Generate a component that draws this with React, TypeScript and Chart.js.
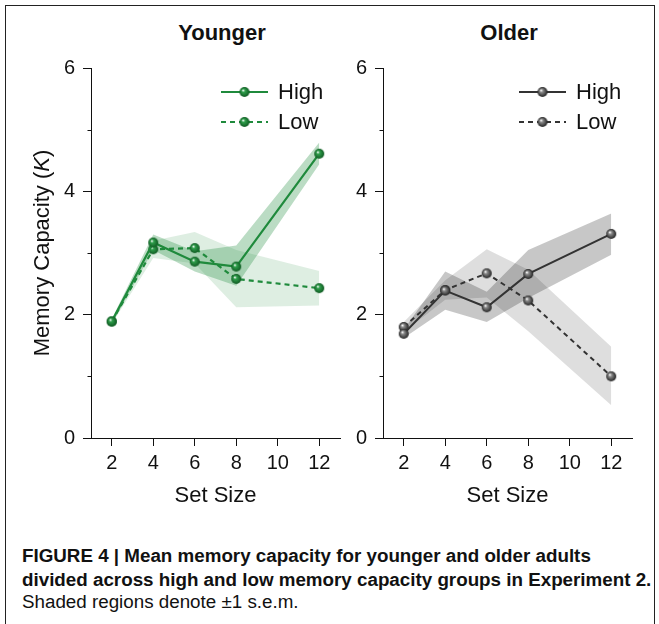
import React, { useEffect, useRef } from 'react';
import { Chart, registerables } from 'chart.js';

Chart.register(...registerables);

// ---------- data ----------
const setSizes = [2, 4, 6, 8, 12];

const youngHigh = [1.89, 3.17, 2.86, 2.78, 4.61];
const youngHighUpper = [1.93, 3.30, 3.03, 3.12, 4.79];
const youngHighLower = [1.85, 3.05, 2.70, 2.47, 4.44];
const youngLow = [1.89, 3.06, 3.08, 2.58, 2.43];
const youngLowUpper = [1.93, 3.20, 3.34, 3.05, 2.71];
const youngLowLower = [1.85, 2.92, 2.83, 2.12, 2.15];

const oldHigh = [1.69, 2.39, 2.12, 2.66, 3.31];
const oldHighUpper = [1.76, 2.70, 2.37, 3.05, 3.64];
const oldHighLower = [1.62, 2.08, 1.88, 2.27, 2.97];
const oldLow = [1.80, 2.40, 2.67, 2.23, 1.00];
const oldLowUpper = [1.88, 2.56, 3.06, 2.73, 1.48];
const oldLowLower = [1.72, 2.24, 2.28, 1.73, 0.53];

const xTickValues = [2, 4, 6, 8, 10, 12];
const yTickValues = [0, 2, 4, 6];
const yMinorTickValues = [1, 3, 5];
const legendLabels = ['High', 'Low'];

const FONT = '"Liberation Sans", Arial, Helvetica, sans-serif';
const INK = '#111111';

function pts(values: number[]) {
  return values.map((v, i) => ({ x: setSizes[i], y: v }));
}

function makeSphere(mid: string, dark: string, r: number) {
  const size = Math.ceil(r * 2 + 2);
  const c = document.createElement('canvas');
  c.width = size;
  c.height = size;
  const ctx = c.getContext('2d')!;
  const cx = size / 2;
  const cy = size / 2;
  const g = ctx.createRadialGradient(cx - r * 0.3, cy - r * 0.35, r * 0.05, cx, cy, r);
  g.addColorStop(0, '#ffffff');
  g.addColorStop(0.3, mid);
  g.addColorStop(1, dark);
  ctx.fillStyle = g;
  ctx.beginPath();
  ctx.arc(cx, cy, r, 0, Math.PI * 2);
  ctx.fill();
  return c;
}

type Panel = {
  high: number[];
  highUpper: number[];
  highLower: number[];
  low: number[];
  lowUpper: number[];
  lowLower: number[];
  line: string;
  sphereMid: string;
  sphereDark: string;
  bandHigh: string;
  bandLow: string;
  lineWidth: number;
  yWidth: number;
  padRight: number;
  legendLeft: number;
  yTitle: boolean;
};

const younger: Panel = {
  high: youngHigh,
  highUpper: youngHighUpper,
  highLower: youngHighLower,
  low: youngLow,
  lowUpper: youngLowUpper,
  lowLower: youngLowLower,
  line: '#1f8a3c',
  sphereMid: '#2f9e4b',
  sphereDark: '#0f5a22',
  bandHigh: 'rgba(31,138,60,0.30)',
  bandLow: 'rgba(31,138,60,0.15)',
  lineWidth: 2.2,
  yWidth: 91,
  padRight: 20,
  legendLeft: 130,
  yTitle: true,
};

const older: Panel = {
  high: oldHigh,
  highUpper: oldHighUpper,
  highLower: oldHighLower,
  low: oldLow,
  lowUpper: oldLowUpper,
  lowLower: oldLowLower,
  line: '#333333',
  sphereMid: '#8a8a8a',
  sphereDark: '#222222',
  bandHigh: 'rgba(0,0,0,0.22)',
  bandLow: 'rgba(0,0,0,0.13)',
  lineWidth: 2,
  yWidth: 38,
  padRight: 23,
  legendLeft: 136,
  yTitle: false,
};

function buildChart(canvas: HTMLCanvasElement, p: Panel) {
  const sphere = makeSphere(p.sphereMid, p.sphereDark, 5);

  const minorTicks = {
    id: 'minorTicks',
    afterDraw(chart: any) {
      const ctx = chart.ctx;
      const ys = chart.scales.y;
      const left = chart.chartArea.left;
      ctx.save();
      ctx.strokeStyle = INK;
      ctx.lineWidth = 1;
      ctx.beginPath();
      yMinorTickValues.forEach((v) => {
        const py = Math.round(ys.getPixelForValue(v)) + 0.5;
        ctx.moveTo(left - 3.5, py);
        ctx.lineTo(left, py);
      });
      ctx.stroke();
      ctx.restore();
    },
  };

  const lineLegend = {
    id: 'lineLegend',
    afterDraw(chart: any) {
      const ctx = chart.ctx;
      const a = chart.chartArea;
      const x0 = a.left + p.legendLeft;
      const rows = [92, 122];
      legendLabels.forEach((label, i) => {
        const y = rows[i];
        ctx.save();
        ctx.strokeStyle = p.line;
        ctx.lineWidth = p.lineWidth;
        ctx.setLineDash(i === 0 ? [] : [5, 4]);
        ctx.beginPath();
        ctx.moveTo(x0, y);
        ctx.lineTo(x0 + 47, y);
        ctx.stroke();
        ctx.setLineDash([]);
        ctx.drawImage(sphere, x0 + 23.5 - sphere.width / 2, y - sphere.height / 2);
        ctx.fillStyle = INK;
        ctx.font = '22px ' + FONT;
        ctx.textBaseline = 'middle';
        ctx.textAlign = 'left';
        ctx.fillText(label, x0 + 57, y + 1);
        ctx.restore();
      });
    },
  };

  const yTitle = {
    id: 'yTitleMixed',
    afterDraw(chart: any) {
      if (!p.yTitle) return;
      const ctx = chart.ctx;
      const a = chart.chartArea;
      const parts = [
        { t: 'Memory Capacity (', f: '22px ' + FONT },
        { t: 'K', f: 'italic 22px ' + FONT },
        { t: ')', f: '22px ' + FONT },
      ];
      ctx.save();
      let total = 0;
      const widths = parts.map((pt) => {
        ctx.font = pt.f;
        const w = ctx.measureText(pt.t).width;
        total += w;
        return w;
      });
      ctx.translate(43, (a.top + a.bottom) / 2);
      ctx.rotate(-Math.PI / 2);
      ctx.fillStyle = INK;
      ctx.textBaseline = 'middle';
      ctx.textAlign = 'left';
      let x = -total / 2;
      parts.forEach((pt, i) => {
        ctx.font = pt.f;
        ctx.fillText(pt.t, x, 0);
        x += widths[i];
      });
      ctx.restore();
    },
  };

  const lineDs = (label: string, data: number[], dash: number[]) => ({
    label,
    data: pts(data),
    borderColor: p.line,
    borderWidth: p.lineWidth,
    borderDash: dash,
    pointStyle: sphere,
    pointRadius: 5,
    fill: false,
    tension: 0,
  });
  const bandDs = (label: string, data: number[], fill: any, color: string) => ({
    label,
    data: pts(data),
    borderWidth: 0,
    borderColor: 'rgba(0,0,0,0)',
    backgroundColor: color,
    pointRadius: 0,
    fill,
    tension: 0,
  });

  return new Chart(canvas, {
    type: 'line',
    data: {
      datasets: [
        lineDs('High', p.high, []),
        lineDs('Low', p.low, [5, 4]),
        bandDs('High upper', p.highUpper, '+1', p.bandHigh),
        bandDs('High lower', p.highLower, false, p.bandHigh),
        bandDs('Low upper', p.lowUpper, '+1', p.bandLow),
        bandDs('Low lower', p.lowLower, false, p.bandLow),
      ],
    } as any,
    options: {
      animation: false,
      responsive: false,
      devicePixelRatio: 1,
      events: [],
      layout: { padding: { left: 0, top: 68, right: p.padRight, bottom: 0 } },
      plugins: {
        legend: { display: false },
        tooltip: { enabled: false },
        title: { display: false },
        filler: { drawTime: 'beforeDatasetsDraw' },
      } as any,
      scales: {
        x: {
          type: 'linear',
          min: 1,
          max: 13,
          afterBuildTicks: (s: any) => {
            s.ticks = xTickValues.map((v) => ({ value: v }));
          },
          afterFit: (s: any) => {
            s.height = 82;
          },
          ticks: { font: { size: 20, family: FONT }, color: INK, padding: 5, maxRotation: 0 },
          grid: { drawOnChartArea: false, drawTicks: true, tickLength: 8, tickColor: INK, tickWidth: 1 },
          border: { display: true, color: INK, width: 1 },
          title: {
            display: true,
            text: 'Set Size',
            color: INK,
            font: { size: 22, family: FONT },
            padding: { top: 0, bottom: 11 },
          },
        },
        y: {
          type: 'linear',
          min: 0,
          max: 6,
          afterBuildTicks: (s: any) => {
            s.ticks = yTickValues.map((v) => ({ value: v }));
          },
          afterFit: (s: any) => {
            s.width = p.yWidth;
          },
          ticks: { font: { size: 20, family: FONT }, color: INK, padding: 8 },
          grid: { drawOnChartArea: false, drawTicks: true, tickLength: 8, tickColor: INK, tickWidth: 1 },
          border: { display: true, color: INK, width: 1 },
          title: { display: false },
        },
      } as any,
    },
    plugins: [minorTicks, lineLegend, yTitle],
  } as any);
}

export default function App() {
  const leftRef = useRef<HTMLCanvasElement>(null);
  const rightRef = useRef<HTMLCanvasElement>(null);

  useEffect(() => {
    const c1 = buildChart(leftRef.current!, younger);
    const c2 = buildChart(rightRef.current!, older);
    return () => {
      c1.destroy();
      c2.destroy();
    };
  }, []);

  const titleStyle: React.CSSProperties = {
    position: 'absolute',
    top: 20,
    width: 200,
    textAlign: 'center',
    fontWeight: 'bold',
    fontSize: 22,
    lineHeight: '26px',
    color: INK,
  };
  const capStyle: React.CSSProperties = {
    position: 'absolute',
    left: 22,
    fontSize: 18.8,
    lineHeight: '23px',
    color: INK,
    whiteSpace: 'nowrap',
  };

  return (
    <div
      style={{
        position: 'fixed',
        left: 0,
        top: 0,
        width: 659,
        height: 624,
        overflow: 'hidden',
        background: '#ffffff',
        fontFamily: FONT,
      }}
    >
      <div
        style={{
          position: 'absolute',
          left: 5,
          top: 5,
          width: 650,
          height: 700,
          border: '1px solid #222',
          boxSizing: 'border-box',
        }}
      />
      <div style={{ ...titleStyle, left: 122 }}>Younger</div>
      <div style={{ ...titleStyle, left: 409 }}>Older</div>
      <canvas
        ref={leftRef}
        width={360}
        height={520}
        style={{ position: 'absolute', left: 0, top: 0, width: 360, height: 520 }}
      />
      <canvas
        ref={rightRef}
        width={310}
        height={520}
        style={{ position: 'absolute', left: 345, top: 0, width: 310, height: 520 }}
      />
      <div style={{ ...capStyle, top: 543.5, fontWeight: 'bold' }}>
        FIGURE 4 | Mean memory capacity for younger and older adults
      </div>
      <div style={{ ...capStyle, top: 567.5, fontWeight: 'bold' }}>
        divided across high and low memory capacity groups in Experiment 2.
      </div>
      <div style={{ ...capStyle, top: 589.5 }}>Shaded regions denote ±1 s.e.m.</div>
    </div>
  );
}
